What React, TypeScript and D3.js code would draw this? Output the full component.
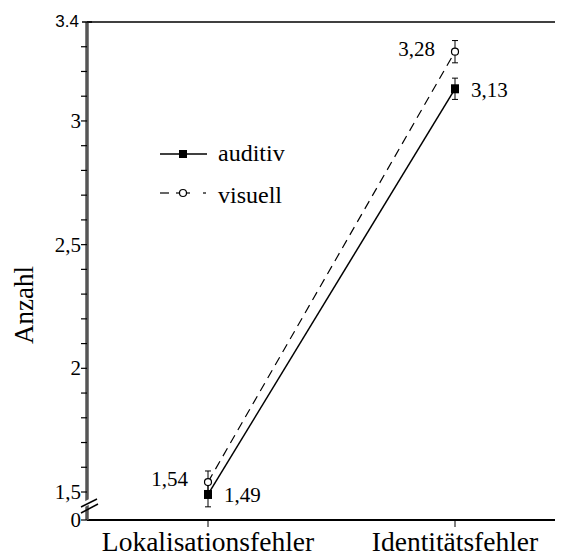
import React from "react";
import * as d3 from "d3";

const categories = ["Lokalisationsfehler", "Identitätsfehler"];
const auditiv = [1.49, 3.13];
const visuell = [1.54, 3.28];
const auditivErr = [0.05, 0.043];
const visuellErr = [0.045, 0.045];
const auditivLabels = ["1,49", "3,13"];
const visuellLabels = ["1,54", "3,28"];
const majorTicks = [1.5, 2, 2.5, 3];
const majorTickLabels = ["1,5", "2", "2,5", "3"];
const minorTicks = [1.6, 1.7, 1.8, 1.9, 2.1, 2.2, 2.3, 2.4, 2.6, 2.7, 2.8, 2.9, 3.1, 3.2, 3.3];

const W = 565, H = 558;
const axisX = 87, topY = 22, zeroY = 520, rightX = 555;

const serif = '"Liberation Serif", "Times New Roman", serif';
const sans = '"Liberation Sans", Arial, sans-serif';

export default function App() {
  const y = d3.scaleLinear().domain([1.5, 3.4]).range([492, topY]);
  const x = d3.scalePoint<string>().domain(categories).range([208, 455]);
  const line = d3.line<[number, number]>();

  const audPts: [number, number][] = categories.map((c, i) => [x(c)!, y(auditiv[i])]);
  const visPts: [number, number][] = categories.map((c, i) => [x(c)!, y(visuell[i])]);

  const errBar = (cx: number, v: number, e: number, key: string) => (
    <g key={key} stroke="#000" strokeWidth={1}>
      <line x1={cx} x2={cx} y1={y(v + e)} y2={y(v - e)} />
      <line x1={cx - 3} x2={cx + 3} y1={y(v + e)} y2={y(v + e)} />
      <line x1={cx - 3} x2={cx + 3} y1={y(v - e)} y2={y(v - e)} />
    </g>
  );

  const tickFont = { fontFamily: serif, fontSize: 21 };

  return (
    <svg width={W} height={H} style={{ position: "absolute", left: 0, top: 0, background: "#fff" }}>
      <line x1={axisX} x2={rightX} y1={topY} y2={topY} stroke="#000" strokeWidth={1.5} />
      <line x1={axisX} x2={rightX} y1={zeroY} y2={zeroY} stroke="#000" strokeWidth={2} />
      {categories.map((c) => (
        <g key={c}>
          <line x1={x(c)} x2={x(c)} y1={zeroY} y2={zeroY + 7} stroke="#000" strokeWidth={1} />
          <text x={x(c)} y={551} textAnchor="middle" style={{ fontFamily: serif, fontSize: 27.5 }}>{c}</text>
        </g>
      ))}
      <line x1={axisX} x2={axisX} y1={topY} y2={zeroY} stroke="#555" strokeWidth={3.5} />
      {minorTicks.map((t) => (
        <line key={t} x1={axisX - 6} x2={axisX} y1={y(t)} y2={y(t)} stroke="#000" strokeWidth={1.2} />
      ))}
      {majorTicks.map((t, i) => (
        <g key={t}>
          <line x1={axisX - 6} x2={axisX} y1={y(t)} y2={y(t)} stroke="#000" strokeWidth={1.2} />
          <text x={axisX - 6} y={y(t) + 7} textAnchor="end" style={tickFont}>{majorTickLabels[i]}</text>
        </g>
      ))}
      <line x1={axisX - 5} x2={axisX + 5} y1={topY} y2={topY} stroke="#000" strokeWidth={1.5} />
      <text x={79} y={27} textAnchor="end" style={{ fontFamily: sans, fontSize: 17 }}>3.4</text>
      <line x1={axisX - 6} x2={axisX} y1={zeroY} y2={zeroY} stroke="#000" strokeWidth={1.2} />
      <text x={axisX - 6} y={527} textAnchor="end" style={tickFont}>0</text>
      <line x1={81} x2={97} y1={506} y2={498} stroke="#fff" strokeWidth={5} />
      <line x1={81} x2={97} y1={507} y2={499} stroke="#000" strokeWidth={1.5} />
      <line x1={81} x2={98} y1={513} y2={504} stroke="#000" strokeWidth={1.5} />
      <text transform="translate(33,305) rotate(-90)" textAnchor="middle" style={{ fontFamily: serif, fontSize: 27 }}>Anzahl</text>

      <path d={line(visPts)!} fill="none" stroke="#000" strokeWidth={1.2} strokeDasharray="9,6" />
      <path d={line(audPts)!} fill="none" stroke="#000" strokeWidth={1.5} />

      {categories.map((c, i) => errBar(x(c)!, visuell[i], visuellErr[i], "ve" + i))}
      {categories.map((c, i) => errBar(x(c)!, auditiv[i], auditivErr[i], "ae" + i))}

      {visPts.map(([px, py], i) => (
        <circle key={"vc" + i} cx={px} cy={py} r={3.5} fill="#fff" stroke="#000" strokeWidth={1.2} />
      ))}
      {audPts.map(([px, py], i) => (
        <rect key={"ar" + i} x={px - 4} y={py - 4.5} width={8} height={9} fill="#000" />
      ))}

      {categories.map((c, i) => (
        <g key={"lbl" + i}>
          <text x={x(c)! + 16} y={y(auditiv[i]) + 8} style={tickFont}>{auditivLabels[i]}</text>
          <text x={x(c)! - 20} y={y(visuell[i]) + 4} textAnchor="end" style={tickFont}>{visuellLabels[i]}</text>
        </g>
      ))}

      <line x1={160} x2={207} y1={154} y2={154} stroke="#000" strokeWidth={1.5} />
      <rect x={179} y={150} width={8} height={8} fill="#000" />
      <text x={218} y={161} style={{ fontFamily: serif, fontSize: 24 }}>auditiv</text>
      <line x1={160} x2={169} y1={193} y2={193} stroke="#000" strokeWidth={1.2} />
      <line x1={176} x2={190} y1={193} y2={193} stroke="#000" strokeWidth={1.2} />
      <circle cx={183} cy={193} r={3.5} fill="#fff" stroke="#000" strokeWidth={1.2} />
      <line x1={203} x2={206} y1={193} y2={193} stroke="#000" strokeWidth={1.2} />
      <text x={218} y={203} style={{ fontFamily: serif, fontSize: 24 }}>visuell</text>
    </svg>
  );
}
